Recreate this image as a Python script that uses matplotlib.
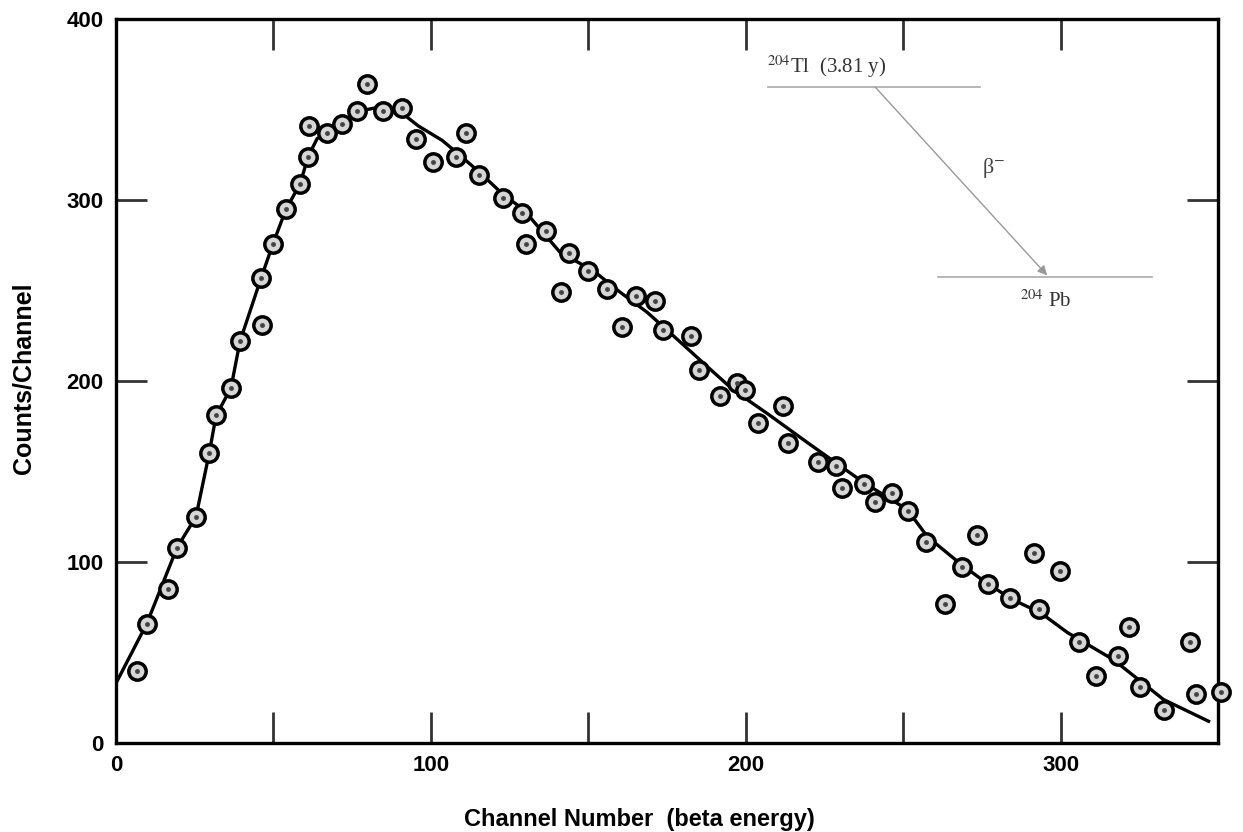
import matplotlib
matplotlib.use("Agg")
import matplotlib.pyplot as plt

channel = [6.7, 9.9, 16.5, 19.4, 25.4, 29.6, 31.8, 36.6, 39.4, 46.4,
           46.1, 49.9, 54.0, 58.5, 61.0, 61.3, 67.0, 71.8, 76.6, 79.8,
           84.8, 90.9, 95.3, 100.7, 108.0, 111.2, 115.3, 123.0, 129.0, 130.3,
           136.6, 141.4, 144.0, 150.0, 156.0, 160.8, 165.2, 171.3, 173.8, 182.7,
           185.3, 191.9, 197.3, 199.9, 204.0, 211.9, 213.5, 222.8, 228.8, 230.7,
           237.7, 241.2, 246.6, 251.4, 257.4, 263.4, 268.8, 273.3, 276.8, 283.8,
           291.4, 293.3, 299.7, 306.0, 311.4, 318.1, 321.6, 325.1, 332.7, 341.0,
           342.9, 350.8]
counts = [40, 66, 85, 108, 125, 160, 181, 196, 222, 231,
          257, 276, 295, 309, 324, 341, 337, 342, 349, 364,
          349, 351, 334, 321, 324, 337, 314, 301, 293, 276,
          283, 249, 271, 261, 251, 230, 247, 244, 228, 225,
          206, 192, 199, 195, 177, 186, 166, 155, 153, 141,
          143, 133, 138, 128, 111, 77, 97, 115, 88, 80,
          105, 74, 95, 56, 37, 48, 64, 31, 18, 56,
          27, 28]

# hand-drawn curve through the data
fit_x = [0, 9.8, 19.4, 25.4, 29.6, 31.8, 36.5, 39.4, 46.1, 49.9,
         54.0, 58.5, 61.0, 63.9, 67.0, 71.8, 76.6, 82.6, 90.9, 96.0,
         103.6, 108.4, 115.7, 123.0, 129.3, 141.1, 151.6, 160.2, 168.7, 178.3,
         187.8, 196.1, 206.9, 219.6, 237.4, 251.3, 257.7, 268.2, 276.8, 285.0,
         293.6, 302.2, 316.8, 332.7, 347.0]
fit_y = [33, 66, 108, 125, 160, 181, 196, 222, 257, 276,
         295, 309, 324, 334, 337, 342, 349, 351, 348, 341,
         333, 326, 315, 303, 295, 271, 261, 249, 238, 223,
         208, 195, 182, 166, 144, 129, 114, 99, 88, 79,
         72, 61, 46, 24, 12]

x_major = [0, 100, 200, 300]
x_minor = [50, 150, 250]
y_major = [0, 100, 200, 300, 400]

plt.rcParams["mathtext.fontset"] = "stix"
SANS = ["Liberation Sans", "DejaVu Sans"]

fig = plt.figure(figsize=(12.43, 8.32), dpi=100)
ax = fig.add_axes([0.0933, 0.107, 0.8866, 0.870])

ax.plot(fit_x, fit_y, color="black", linewidth=2.4, zorder=2)
ax.plot(channel, counts, linestyle="none", marker="o", markersize=12.5,
        markerfacecolor="#d6d6d6", markeredgecolor="black",
        markeredgewidth=2.5, clip_on=False, zorder=3)
ax.plot(channel, counts, linestyle="none", marker="o", markersize=2.5,
        color="#444444", clip_on=False, zorder=4)

ax.set_xlim(0, 350)
ax.set_ylim(0, 400)
ax.set_xticks(x_major)
ax.set_xticks(x_minor, minor=True)
ax.set_yticks(y_major)
ax.tick_params(which="both", direction="in", length=22, width=2,
               color="#333333", top=True, right=True, labelsize=16, pad=9)
for lab in ax.get_xticklabels() + ax.get_yticklabels():
    lab.set_fontweight("bold")
    lab.set_family(SANS)
for sp in ax.spines.values():
    sp.set_linewidth(2.4)
    sp.set_color("black")

ax.set_xlabel("Channel Number  (beta energy)", fontsize=17, fontweight="bold",
              family=SANS)
ax.set_ylabel("Counts/Channel", fontsize=18, fontweight="bold", family=SANS)
ax.xaxis.set_label_coords(0.475, -0.090)
ax.yaxis.set_label_coords(-0.073, 0.504)

# ── decay scheme inset ──────────────────────────────────────────
tr = ax.transAxes
ax.plot([0.592, 0.784], [0.906, 0.906], color="#aaaaaa", linewidth=1.2, transform=tr)
ax.plot([0.746, 0.940], [0.644, 0.644], color="#aaaaaa", linewidth=1.2, transform=tr)
ax.annotate("", xy=(0.845, 0.646), xytext=(0.689, 0.906), xycoords=tr,
            arrowprops=dict(arrowstyle="-|>", color="#999999", lw=1.0,
                            mutation_scale=14, shrinkA=0, shrinkB=0))
ax.text(0.591, 0.925, r"$^{204}$Tl  (3.81 y)", transform=tr, fontsize=15,
        family="Liberation Serif", color="#333333", va="baseline")
ax.text(0.796, 0.794, r"β$^{-}$", transform=tr, fontsize=16,
        family="Liberation Serif", color="#444444", ha="center", va="center")
ax.text(0.820, 0.602, r"$^{204}$ Pb", transform=tr, fontsize=15,
        family="Liberation Serif", color="#333333", va="baseline")

fig.savefig("out.png", dpi=100)
